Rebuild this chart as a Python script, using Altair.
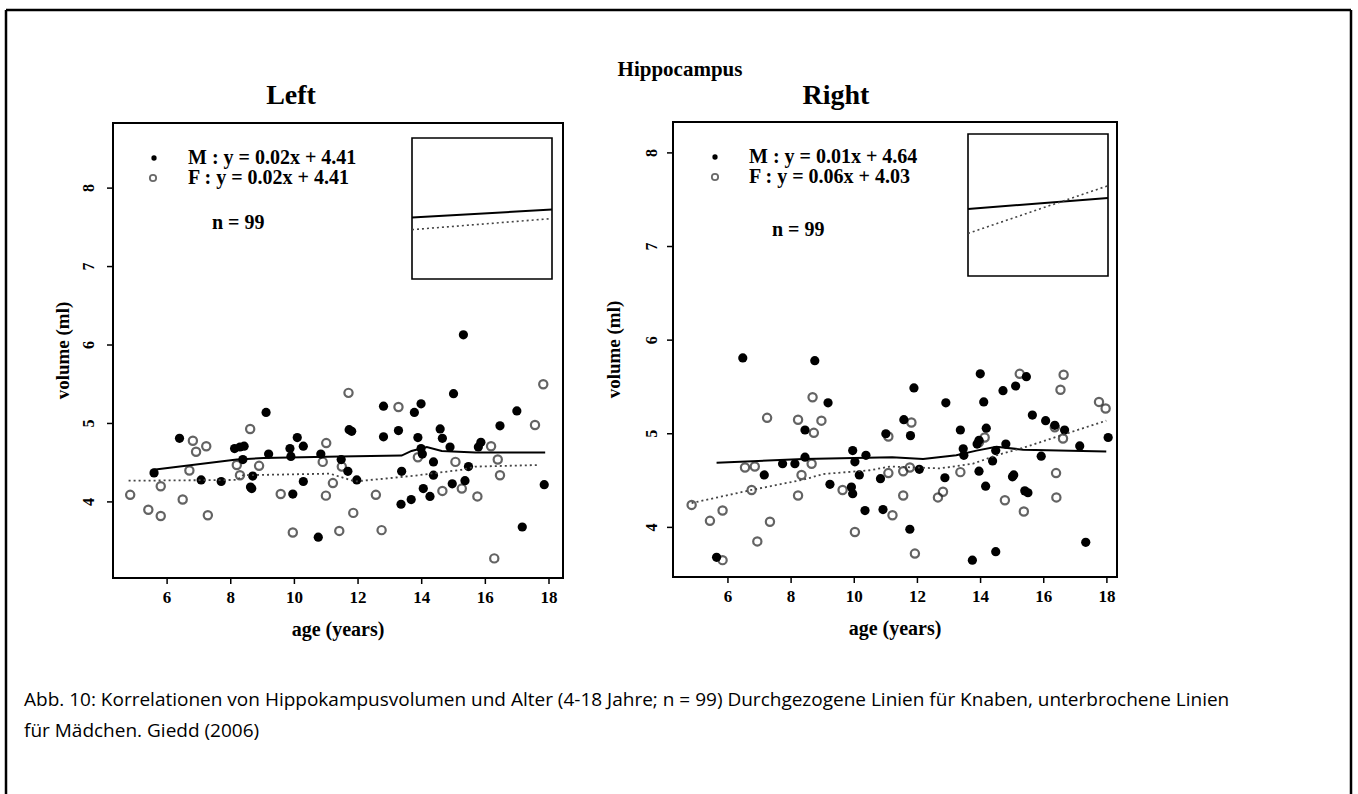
import altair as alt
import pandas as pd

W, H = 1358, 794
SERIF = "Liberation Serif"
SANS = "Open Sans"

# ---------------- data ----------------
X_TICKS = [6, 8, 10, 12, 14, 16, 18]
Y_TICKS = [4, 5, 6, 7, 8]

# Left hippocampus, males (filled)
L_M_AGE = [9.11, 6.39, 5.59, 8.12, 8.29, 8.42, 8.38, 8.69, 8.66, 8.62, 7.07, 7.70, 9.19, 9.86, 9.89,
           10.09, 10.28, 10.28, 9.95, 10.75, 10.83, 15.31, 15.00, 13.98, 13.77, 12.80, 11.72, 11.80,
           12.80, 13.27, 14.58, 14.65, 14.89, 13.88, 13.98, 14.02, 15.86, 15.78, 16.46, 16.99, 17.85,
           17.16, 11.47, 11.68, 11.96, 13.37, 14.37, 14.37, 15.47, 15.36, 14.96, 14.05, 14.26, 13.67, 13.35]
L_M_VOL = [5.14, 4.81, 4.37, 4.68, 4.70, 4.71, 4.54, 4.33, 4.17, 4.19, 4.28, 4.26, 4.61, 4.68, 4.58,
           4.82, 4.71, 4.26, 4.10, 3.55, 4.61, 6.13, 5.38, 5.25, 5.14, 5.22, 4.92, 4.90,
           4.83, 4.91, 4.93, 4.81, 4.70, 4.82, 4.68, 4.61, 4.76, 4.70, 4.97, 5.16, 4.22,
           3.68, 4.54, 4.39, 4.28, 4.39, 4.51, 4.34, 4.45, 4.27, 4.23, 4.17, 4.07, 4.03, 3.97]
# Left hippocampus, females (open)
L_F_AGE = [4.84, 5.41, 5.80, 5.80, 6.49, 6.70, 6.81, 6.91, 7.23, 7.28, 8.61, 8.19, 8.29, 8.89, 9.57,
           9.95, 11.00, 10.89, 11.21, 10.99, 11.41, 11.70, 13.27, 17.82, 17.56, 16.18, 16.39, 16.46,
           15.06, 13.88, 15.75, 15.26, 14.65, 12.56, 11.85, 12.74, 16.28, 11.49]
L_F_VOL = [4.09, 3.90, 3.82, 4.20, 4.03, 4.40, 4.78, 4.64, 4.71, 3.83, 4.93, 4.47, 4.34, 4.46, 4.10,
           3.61, 4.75, 4.51, 4.24, 4.08, 3.63, 5.39, 5.21, 5.50, 4.98, 4.71, 4.54, 4.34,
           4.51, 4.57, 4.07, 4.17, 4.14, 4.09, 3.86, 3.64, 3.28, 4.45]
# Left smoothed curves
L_LM_AGE = [5.57, 8.19, 9.03, 11.43, 13.37, 13.68, 14.16, 14.63, 15.68, 17.88]
L_LM_VOL = [4.41, 4.54, 4.56, 4.58, 4.59, 4.65, 4.70, 4.65, 4.63, 4.63]
L_LF_AGE = [4.79, 8.19, 8.39, 11.12, 11.91, 13.90, 15.26, 15.68, 17.67]
L_LF_VOL = [4.27, 4.28, 4.34, 4.36, 4.26, 4.34, 4.41, 4.45, 4.47]

# Right hippocampus, males (filled)
R_M_AGE = [6.47, 8.75, 9.17, 8.44, 7.73, 8.12, 8.44, 7.15, 5.64, 9.95, 10.37, 10.02, 10.16, 9.23, 9.91,
           9.95, 10.34, 10.91, 10.83, 11.00, 11.89, 13.99, 12.90, 14.10, 15.45, 15.11, 14.71, 11.57,
           11.78, 13.36, 14.18, 15.64, 16.06, 16.35, 16.66, 13.45, 13.47, 13.89, 13.95, 14.48, 14.80,
           14.38, 15.92, 17.14, 18.04, 12.06, 12.87, 13.95, 14.16, 15.01, 15.05, 15.40, 15.50, 11.76,
           13.74, 14.48, 17.33]
R_M_VOL = [5.81, 5.78, 5.33, 5.04, 4.68, 4.68, 4.75, 4.56, 3.68, 4.82, 4.77, 4.70, 4.56, 4.46, 4.43,
           4.36, 4.18, 4.19, 4.52, 5.00, 5.49, 5.64, 5.33, 5.34, 5.61, 5.51, 5.46, 5.15,
           4.98, 5.04, 5.06, 5.20, 5.14, 5.09, 5.04, 4.84, 4.77, 4.89, 4.93, 4.82, 4.89,
           4.71, 4.76, 4.87, 4.96, 4.62, 4.53, 4.60, 4.44, 4.54, 4.56, 4.39, 4.37, 3.98,
           3.65, 3.74, 3.84]
# Right hippocampus, females (open)
R_F_AGE = [8.68, 7.24, 8.22, 8.96, 8.72, 6.54, 6.85, 8.65, 8.33, 6.75, 8.22, 4.85, 5.43, 5.83, 7.33,
           6.93, 5.83, 9.63, 10.02, 11.08, 11.21, 11.08, 15.24, 16.63, 16.53, 17.75, 17.96, 11.81,
           16.35, 16.61, 14.13, 13.95, 11.55, 11.76, 13.36, 16.39, 11.55, 12.81, 12.65, 14.77, 15.37,
           16.40, 11.92]
R_F_VOL = [5.39, 5.17, 5.15, 5.14, 5.01, 4.64, 4.65, 4.68, 4.56, 4.40, 4.34, 4.24, 4.07, 4.18, 4.06,
           3.85, 3.65, 4.40, 3.95, 4.58, 4.13, 4.97, 5.64, 5.63, 5.47, 5.34, 5.27, 5.12,
           5.07, 4.95, 4.96, 4.91, 4.60, 4.64, 4.59, 4.58, 4.34, 4.38, 4.32, 4.29, 4.17,
           4.32, 3.72]
# Right smoothed curves
R_LM_AGE = [5.64, 8.39, 11.20, 12.18, 13.23, 13.87, 14.50, 15.35, 17.98]
R_LM_VOL = [4.69, 4.73, 4.75, 4.73, 4.77, 4.82, 4.86, 4.83, 4.81]
R_LF_AGE = [4.85, 6.75, 8.39, 9.02, 10.49, 11.13, 12.71, 13.76, 14.50, 15.35, 16.61, 17.98]
R_LF_VOL = [4.26, 4.40, 4.51, 4.57, 4.61, 4.65, 4.63, 4.68, 4.77, 4.85, 4.99, 5.14]

# Inset regression lines (age end points, volume end points)
INSET_AGE = [4.5, 18.0]
L_INSET_M = [4.61, 4.69]
L_INSET_F = [4.49, 4.60]
R_INSET_M = [4.66, 4.77]
R_INSET_F = [4.42, 4.89]
INSET_XDOM = [4.5, 18.0]
INSET_YDOM = [4.0, 5.4]

# axis domains
L_XDOM, L_YDOM = [4.30, 18.44], [3.03, 8.83]
R_XDOM, R_YDOM = [4.26, 18.32], [3.47, 8.33]

LEFT_LEGEND = ["M : y = 0.02x + 4.41", "F : y = 0.02x + 4.41"]
RIGHT_LEGEND = ["M : y = 0.01x + 4.64", "F : y = 0.06x + 4.03"]
CAPTION = ["Abb. 10: Korrelationen von Hippokampusvolumen und Alter (4-18 Jahre; n = 99) "
           "Durchgezogene Linien für Knaben, unterbrochene Linien",
           "für Mädchen. Giedd (2006)"]

ONE = alt.Data(values=[{}])


def xy_df(a, v):
    return pd.DataFrame({"age": a, "vol": v})


def panel(m_age, m_vol, f_age, f_vol, lm_age, lm_vol, lf_age, lf_vol,
          xdom, ydom, xr, yr, ylab_x, ytitle_x):
    xs = alt.Scale(domain=xdom, range=xr, nice=False, zero=False)
    ys = alt.Scale(domain=ydom, range=yr, nice=False, zero=False)
    X = alt.X("age:Q", scale=xs, axis=None)
    Y = alt.Y("vol:Q", scale=ys, axis=None)
    frame_df = pd.DataFrame({"x0": [xdom[0]], "x1": [xdom[1]], "y0": [ydom[0]], "y1": [ydom[1]]})
    frame = alt.Chart(frame_df).mark_rect(fillOpacity=0, stroke="black", strokeWidth=2).encode(
        x=alt.X("x0:Q", scale=xs, axis=None), x2="x1:Q",
        y=alt.Y("y0:Q", scale=ys, axis=None), y2="y1:Q")

    # axis ticks and labels, placed through the panel scales
    xt = pd.DataFrame({"age": X_TICKS, "t": [str(v) for v in X_TICKS]})
    yt = pd.DataFrame({"vol": Y_TICKS, "t": [str(v) for v in Y_TICKS]})
    xtick = alt.Chart(xt).mark_rule(color="black", strokeWidth=1.5).encode(
        x=X, y=alt.value(yr[0]), y2=alt.value(yr[0] + 6))
    xlab = alt.Chart(xt).mark_text(font=SERIF, fontSize=17, fontWeight="bold", color="black",
                                   baseline="middle").encode(x=X, y=alt.value(yr[0] + 20), text="t:N")
    ytick = alt.Chart(yt).mark_rule(color="black", strokeWidth=1.5).encode(
        y=Y, x=alt.value(xr[0] - 6), x2=alt.value(xr[0]))
    ylab = alt.Chart(yt).mark_text(font=SERIF, fontSize=16, fontWeight="bold", color="black",
                                   angle=270, baseline="middle", align="center").encode(
        y=Y, x=alt.value(ylab_x), text="t:N")
    xtitle = alt.Chart(alt.Data(values=[{"t": "age (years)"}])).mark_text(
        font=SERIF, fontSize=20, fontWeight="bold", color="black", baseline="middle").encode(
        x=alt.value((xr[0] + xr[1]) / 2), y=alt.value(yr[0] + 52), text="t:N")
    ytitle = alt.Chart(alt.Data(values=[{"t": "volume (ml)"}])).mark_text(
        font=SERIF, fontSize=19, fontWeight="bold", color="black", baseline="middle",
        angle=270).encode(x=alt.value(ytitle_x), y=alt.value((yr[0] + yr[1]) / 2), text="t:N")

    pf = alt.Chart(xy_df(f_age, f_vol)).mark_point(shape="circle", size=68, strokeWidth=2.2,
                                                  color="#222222", filled=False).encode(x=X, y=Y)
    pm = alt.Chart(xy_df(m_age, m_vol)).mark_point(shape="circle", size=85, filled=True,
                                                  color="black", opacity=1).encode(x=X, y=Y)
    lm = alt.Chart(xy_df(lm_age, lm_vol)).mark_line(color="black", strokeWidth=2).encode(x=X, y=Y)
    lf = alt.Chart(xy_df(lf_age, lf_vol)).mark_line(color="#444444", strokeWidth=1.8,
                                                   strokeDash=[2, 3]).encode(x=X, y=Y)
    return alt.layer(frame, xtick, xlab, ytick, ylab, xtitle, ytitle, pf, pm, lm, lf)


def inset(xr, yr, m_vals, f_vals):
    xs = alt.Scale(domain=INSET_XDOM, range=xr, nice=False, zero=False)
    ys = alt.Scale(domain=INSET_YDOM, range=yr, nice=False, zero=False)
    frame_df = pd.DataFrame({"x0": [INSET_XDOM[0]], "x1": [INSET_XDOM[1]],
                             "y0": [INSET_YDOM[0]], "y1": [INSET_YDOM[1]]})
    box = alt.Chart(frame_df).mark_rect(fill="white", stroke="black", strokeWidth=1.6).encode(
        x=alt.X("x0:Q", scale=xs, axis=None), x2="x1:Q",
        y=alt.Y("y0:Q", scale=ys, axis=None), y2="y1:Q")
    X = alt.X("age:Q", scale=xs, axis=None)
    Y = alt.Y("vol:Q", scale=ys, axis=None)
    m = alt.Chart(xy_df(INSET_AGE, m_vals)).mark_line(color="black", strokeWidth=2).encode(x=X, y=Y)
    f = alt.Chart(xy_df(INSET_AGE, f_vals)).mark_line(color="#444444", strokeWidth=1.6,
                                                     strokeDash=[2, 3]).encode(x=X, y=Y)
    return alt.layer(box, m, f)


def label(text, x, y, size, font=SERIF, weight="bold", align="center"):
    return alt.Chart(alt.Data(values=[{"t": text}])).mark_text(
        font=font, fontSize=size, fontWeight=weight, align=align, baseline="middle",
        color="black").encode(x=alt.value(x), y=alt.value(y), text="t:N")


def marker(x, y, filled):
    if filled:
        mk = alt.Chart(ONE).mark_point(shape="circle", size=28, filled=True, color="black", opacity=1)
    else:
        mk = alt.Chart(ONE).mark_point(shape="circle", size=40, filled=False, strokeWidth=1.8,
                                       color="#2a2a2a")
    return mk.encode(x=alt.value(x), y=alt.value(y))


def rule(x, y, x2=None, y2=None):
    enc = {"x": alt.value(x), "y": alt.value(y)}
    if x2 is not None:
        enc["x2"] = alt.value(x2)
    if y2 is not None:
        enc["y2"] = alt.value(y2)
    return alt.Chart(ONE).mark_rule(color="black", strokeWidth=2.5).encode(**enc)


left = panel(L_M_AGE, L_M_VOL, L_F_AGE, L_F_VOL, L_LM_AGE, L_LM_VOL, L_LF_AGE, L_LF_VOL,
             L_XDOM, L_YDOM, [113, 563], [578, 123], 89, 63)
right = panel(R_M_AGE, R_M_VOL, R_F_AGE, R_F_VOL, R_LM_AGE, R_LM_VOL, R_LF_AGE, R_LF_VOL,
              R_XDOM, R_YDOM, [673, 1117], [577, 122], 652, 614)
left_in = inset([412, 552], [279, 138], L_INSET_M, L_INSET_F)
right_in = inset([968, 1108], [276, 134], R_INSET_M, R_INSET_F)

texts = [
    label("Hippocampus", 680, 70, 21),
    label("Left", 291, 96, 28),
    label("Right", 836, 96, 28),
    label(LEFT_LEGEND[0], 188, 158, 20, align="left"),
    label(LEFT_LEGEND[1], 188, 178, 20, align="left"),
    label("n = 99", 212, 223, 20, align="left"),
    label(RIGHT_LEGEND[0], 749, 157, 20, align="left"),
    label(RIGHT_LEGEND[1], 749, 177, 20, align="left"),
    label("n = 99", 772, 230, 20, align="left"),
    label(CAPTION[0], 24, 700, 19, font=SANS, weight="normal", align="left"),
    label(CAPTION[1], 24, 731, 19, font=SANS, weight="normal", align="left"),
    marker(154, 158, True), marker(153, 178, False),
    marker(715, 157, True), marker(715, 177, False),
]

border = [rule(6, 10, y2=H), rule(6, 10, x2=1351), rule(1351, 10, y2=H)]

chart = alt.layer(*border, left, right, left_in, right_in, *texts).resolve_scale(
    x="independent", y="independent"
).properties(
    width=W, height=H, autosize=alt.AutoSizeParams(type="none"), padding=0,
    background="white"
).configure_view(stroke=None)

chart.save("out.html", embed_options={"renderer": "svg", "actions": False})
